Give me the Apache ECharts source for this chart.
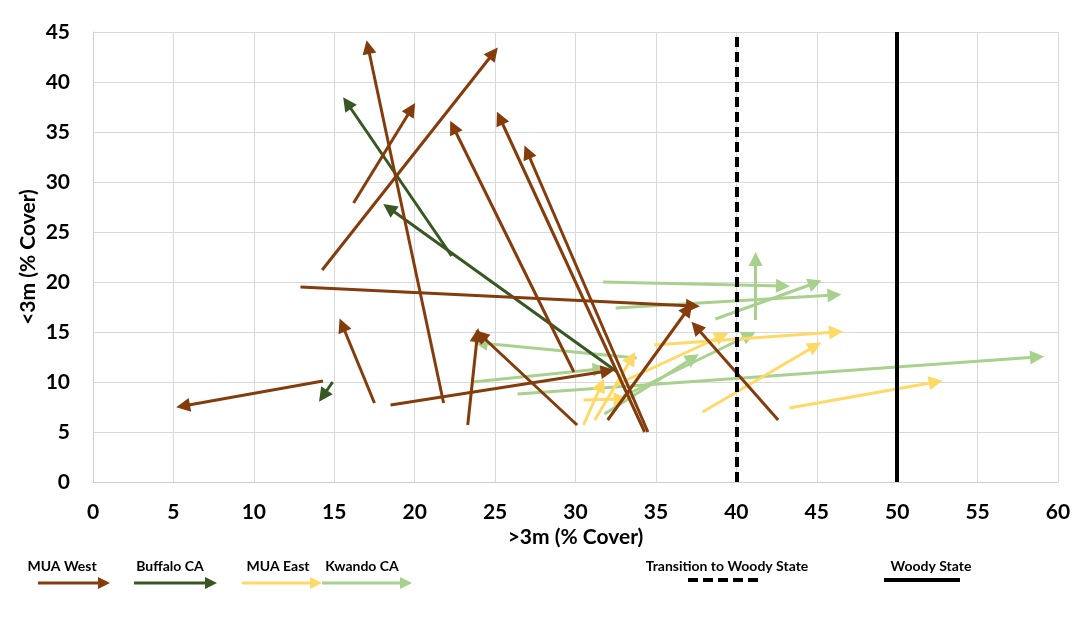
<!DOCTYPE html>
<html>
<head>
<meta charset="utf-8">
<script src="https://cdn.jsdelivr.net/npm/echarts@6/dist/echarts.min.js"></script>
<style>
html,body{margin:0;padding:0;background:#fff;}
#chart{width:1080px;height:625px;}
</style>
</head>
<body>
<div id="chart"></div>
<script>
// ---- data: each arrow is [x start, y start, x end, y end] ----
const categories = ['MUA West', 'Buffalo CA', 'MUA East', 'Kwando CA'];
const muaWest = [
  [14.25, 21.2, 24.9, 42.9],
  [16.2, 27.9, 19.8, 37.3],
  [21.8, 7.9, 17.1, 43.5],
  [29.9, 11.0, 22.4, 35.5],
  [34.3, 5.0, 25.3, 36.4],
  [34.5, 5.0, 27.0, 33.0],
  [12.9, 19.5, 37.3, 17.6],
  [32.0, 6.2, 37.0, 17.3],
  [18.5, 7.7, 32.0, 11.1],
  [14.3, 10.1, 5.6, 7.6],
  [17.5, 7.9, 15.5, 15.7],
  [23.3, 5.7, 23.9, 14.7],
  [30.1, 5.7, 24.1, 14.7],
  [42.6, 6.2, 37.5, 15.5]
];
const buffaloCA = [
  [22.3, 22.6, 15.8, 37.9],
  [32.6, 11.0, 18.4, 27.4],
  [14.9, 10.0, 14.3, 8.6]
];
const muaEast = [
  [43.3, 7.4, 52.4, 10.0],
  [37.9, 7.0, 44.9, 13.6],
  [34.9, 13.7, 46.2, 15.0],
  [32.5, 9.7, 39.1, 14.6],
  [31.2, 6.2, 33.5, 12.4],
  [30.5, 5.7, 31.6, 9.7],
  [30.5, 8.2, 32.8, 8.3]
];
const kwandoCA = [
  [26.4, 8.8, 58.7, 12.5],
  [31.7, 20.0, 42.9, 19.6],
  [32.5, 17.4, 46.1, 18.7],
  [38.7, 16.3, 44.9, 19.9],
  [41.2, 16.2, 41.2, 22.3],
  [33.8, 12.4, 24.1, 13.9],
  [23.6, 10.0, 31.5, 11.3],
  [31.8, 6.8, 37.3, 12.4],
  [33.0, 8.6, 40.8, 14.7]
];
const thresholdLabels = ['Transition to Woody State', 'Woody State'];
const thresholdX = [40, 50];
const xTicks = [0, 60, 5];   // min, max, interval
const yTicks = [0, 45, 5];

const colors = {
  'MUA West': '#843C0C',
  'Buffalo CA': '#385723',
  'MUA East': '#FFD966',
  'Kwando CA': '#A9D18E'
};
const seriesData = {
  'MUA West': muaWest,
  'Buffalo CA': buffaloCA,
  'MUA East': muaEast,
  'Kwando CA': kwandoCA
};

const FONT = 'Lato, "Open Sans", sans-serif';

function arrowSeries(name, z) {
  return {
    name: name,
    type: 'lines',
    coordinateSystem: 'cartesian2d',
    z: z,
    symbol: ['none', 'triangle'],
    symbolSize: [12, 14],
    lineStyle: { color: colors[name], width: 3, opacity: 1, curveness: 0 },
    itemStyle: { color: colors[name] },
    silent: true,
    data: seriesData[name].map(a => ({ coords: [[a[0], a[1]], [a[2], a[3]]] }))
  };
}

const series = [
  arrowSeries('Kwando CA', 2),
  arrowSeries('MUA East', 3),
  arrowSeries('Buffalo CA', 4),
  arrowSeries('MUA West', 5),
  {
    name: thresholdLabels[0],
    type: 'lines',
    coordinateSystem: 'cartesian2d',
    z: 6,
    symbol: 'none',
    lineStyle: { color: '#000', width: 4, type: [10, 5], opacity: 1 },
    data: [{ coords: [[thresholdX[0], yTicks[0]], [thresholdX[0], yTicks[1]]] }]
  },
  {
    name: thresholdLabels[1],
    type: 'lines',
    coordinateSystem: 'cartesian2d',
    z: 6,
    symbol: 'none',
    lineStyle: { color: '#000', width: 4, type: 'solid', opacity: 1 },
    data: [{ coords: [[thresholdX[1], yTicks[0]], [thresholdX[1], yTicks[1]]] }]
  }
];

// ---- legend drawn as graphics (label above, arrow below) ----
function legendArrow(x1, x2, y, color) {
  return [
    { type: 'line', shape: { x1: x1, y1: y, x2: x2 - 10, y2: y }, style: { stroke: color, lineWidth: 3 } },
    { type: 'polygon', shape: { points: [[x2 - 12, y - 6], [x2, y], [x2 - 12, y + 6]] }, style: { fill: color } }
  ];
}
const legendItems = [
  { name: categories[0], tx: 62, ax1: 38, ax2: 110 },
  { name: categories[1], tx: 170, ax1: 134, ax2: 217 },
  { name: categories[2], tx: 278, ax1: 242, ax2: 322 },
  { name: categories[3], tx: 362, ax1: 322, ax2: 412 }
];
const graphics = [];
legendItems.forEach(it => {
  graphics.push({
    type: 'text', x: it.tx, y: 566,
    style: { text: it.name, font: 'bold 14px ' + FONT, fill: '#000', textAlign: 'center', textVerticalAlign: 'middle' }
  });
  legendArrow(it.ax1, it.ax2, 583, colors[it.name]).forEach(g => graphics.push(g));
});
graphics.push({
  type: 'text', x: 727, y: 566,
  style: { text: thresholdLabels[0], font: 'bold 14px ' + FONT, fill: '#000', textAlign: 'center', textVerticalAlign: 'middle' }
});
graphics.push({ type: 'line', shape: { x1: 688, y1: 580, x2: 758, y2: 580 }, style: { stroke: '#000', lineWidth: 4, lineDash: [10, 5] } });
graphics.push({
  type: 'text', x: 931, y: 566,
  style: { text: thresholdLabels[1], font: 'bold 14px ' + FONT, fill: '#000', textAlign: 'center', textVerticalAlign: 'middle' }
});
graphics.push({ type: 'line', shape: { x1: 884, y1: 580, x2: 960, y2: 580 }, style: { stroke: '#000', lineWidth: 4 } });

const chart = echarts.init(document.getElementById('chart'), null, { renderer: 'canvas' });
chart.setOption({
  backgroundColor: '#fff',
  animation: false,
  grid: { left: 93, right: 22, top: 32, bottom: 143, containLabel: false },
  xAxis: {
    type: 'value', min: xTicks[0], max: xTicks[1], interval: xTicks[2],
    name: '>3m (% Cover)', nameLocation: 'middle', nameGap: 45, nameMoveOverlap: false,
    nameTextStyle: { fontFamily: FONT, fontWeight: 'bold', fontSize: 21, color: '#000' },
    axisLine: { show: true, lineStyle: { color: '#d0d0d0', width: 1 } },
    axisTick: { show: false },
    axisLabel: { fontFamily: FONT, fontWeight: 'bold', fontSize: 21, color: '#000', margin: 20 },
    splitLine: { show: true, lineStyle: { color: '#d9d9d9', width: 1 } }
  },
  yAxis: {
    type: 'value', min: yTicks[0], max: yTicks[1], interval: yTicks[2],
    name: '<3m (% Cover)', nameLocation: 'middle', nameGap: 54, nameRotate: 90, nameMoveOverlap: false,
    nameTextStyle: { fontFamily: FONT, fontWeight: 'bold', fontSize: 21, color: '#000' },
    axisLine: { show: true, lineStyle: { color: '#d0d0d0', width: 1 } },
    axisTick: { show: false },
    axisLabel: { fontFamily: FONT, fontWeight: 'bold', fontSize: 21, color: '#000', margin: 23 },
    splitLine: { show: true, lineStyle: { color: '#d9d9d9', width: 1 } }
  },
  series: series,
  graphic: graphics
});
</script>
</body>
</html>
